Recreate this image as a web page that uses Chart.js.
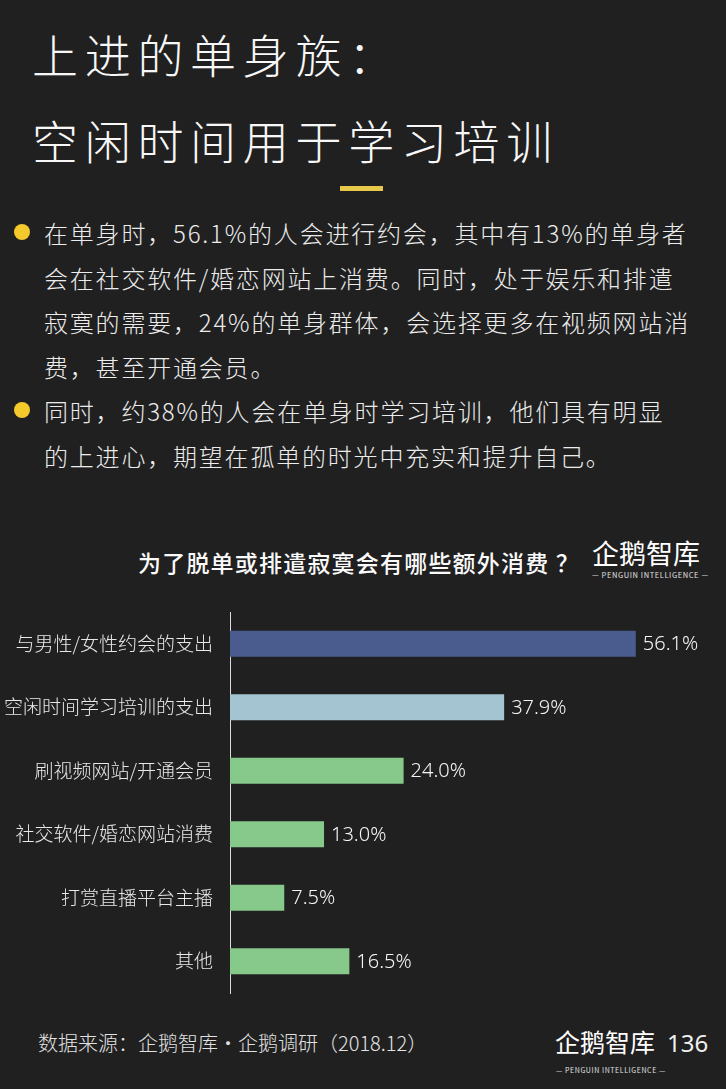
<!DOCTYPE html>
<html>
<head>
<meta charset="utf-8">
<script src="https://cdn.jsdelivr.net/npm/chart.js@4"></script>
<style>
  html, body { margin: 0; padding: 0; }
  body {
    width: 726px; height: 1089px; position: relative; overflow: hidden;
    background: #202020;
    font-family: "Noto Sans CJK SC", "Noto Sans", sans-serif;
    color: #f2f2f2;
  }
  .abs { position: absolute; white-space: nowrap; }
  .title { left: 32px; font-size: 46px; letter-spacing: 6.7px; font-weight: 300; line-height: 60px; color: #f7f7f7; }
  .bar-deco { left: 340px; top: 186px; width: 43px; height: 5px; background: #e6c84a; }
  .dot { width: 16px; height: 16px; border-radius: 50%; background: #f3c92c; left: 14px; }
  .para { left: 44px; font-size: 24px; letter-spacing: 1.8px; line-height: 44.6px; font-weight: 300; color: #ececec; }
  .ctitle { left: 138px; top: 546px; font-size: 23px; line-height: 32px; font-weight: 500; letter-spacing: 1.2px; color: #fafafa; }
  .logo { font-size: 27px; line-height: 30px; letter-spacing: 0px; color: #fff; font-weight: 400; }
  .logo-sub { font-size: 7.5px; letter-spacing: 0.6px; color: #e0e0e0; line-height: 10px; }
  .foot { left: 38px; top: 1028px; font-size: 20px; line-height: 30px; font-weight: 300; color: #e2e2e2; }
  .page { left: 667px; top: 1027px; font-size: 24px; line-height: 32px; color: #f0f0f0; font-family: "Noto Sans", sans-serif; }
  #wrap { position: absolute; left: 0; top: 600px; width: 726px; height: 400px; }
</style>
</head>
<body>
<div class="abs title" style="top:23px;">上进的单身族：</div>
<div class="abs title" style="top:109px;">空闲时间用于学习培训</div>
<div class="abs bar-deco"></div>

<div class="abs dot" style="top:224px;"></div>
<div class="abs para" style="top:211px;">在单身时，56.1%的人会进行约会，其中有13%的单身者<br>会在社交软件/婚恋网站上消费。同时，处于娱乐和排遣<br>寂寞的需要，24%的单身群体，会选择更多在视频网站消<br>费，甚至开通会员。</div>
<div class="abs dot" style="top:402px;"></div>
<div class="abs para" style="top:389px;">同时，约38%的人会在单身时学习培训，他们具有明显<br>的上进心，期望在孤单的时光中充实和提升自己。</div>

<div class="abs ctitle">为了脱单或排遣寂寞会有哪些额外消费 ？</div>
<div class="abs logo" style="left:592px; top:538px;">企鹅智库</div>
<div class="abs logo-sub" style="left:592px; top:570px;">— PENGUIN INTELLIGENCE —</div>

<div id="wrap"><canvas id="chart"></canvas></div>

<div class="abs foot">数据来源：企鹅智库·企鹅调研（2018.12）</div>
<div class="abs logo" style="left:555px; top:1026px; font-size:25px;">企鹅智库</div>
<div class="abs logo-sub" style="left:556px; top:1065px; font-size:7px;">— PENGUIN INTELLIGENCE —</div>
<div class="abs page">136</div>

<script>
// 数据
const categorias = ['与男性/女性约会的支出', '空闲时间学习培训的支出', '刷视频网站/开通会员', '社交软件/婚恋网站消费', '打赏直播平台主播', '其他'];
const valores = [56.1, 37.9, 24.0, 13.0, 7.5, 16.5];
const colores = ['#4a5b8e', '#a3c4d0', '#86c98b', '#86c98b', '#86c98b', '#86c98b'];

const fontFam = '"Noto Sans CJK SC", "Noto Sans", sans-serif';

// etiquetas de valor al final de cada barra
const etiquetas = {
    id: 'etiquetas',
    afterDatasetsDraw(chart) {
        const ctx = chart.ctx;
        const meta = chart.getDatasetMeta(0);
        ctx.save();
        ctx.fillStyle = '#f4f4f4';
        ctx.font = '300 20px "Noto Sans", sans-serif';
        ctx.textAlign = 'left';
        ctx.textBaseline = 'middle';
        meta.data.forEach((bar, i) => {
            ctx.fillText(valores[i].toFixed(1) + '%', bar.x + 7, bar.y + 1);
        });
        ctx.restore();
    }
};

new Chart(document.getElementById('chart'), {
    type: 'bar',
    data: {
        labels: categorias,
        datasets: [{
            data: valores,
            backgroundColor: colores,
            borderWidth: 0,
            barPercentage: 0.41,
            categoryPercentage: 1
        }]
    },
    options: {
        indexAxis: 'y',
        responsive: true,
        maintainAspectRatio: false,
        animation: false,
        layout: { padding: { top: 12, bottom: 7, right: 62, left: 0 } },
        plugins: { legend: { display: false }, tooltip: { enabled: false } },
        scales: {
            x: { display: false, min: 0, max: 60 },
            y: {
                afterFit: (s) => {
                    s.width = 230;
                    // sin relleno extra arriba/abajo por las etiquetas
                    s.paddingTop = 0;
                    s.paddingBottom = 0;
                },
                grid: { display: true, color: 'transparent', drawTicks: false },
                border: { display: true, color: '#dcdcdc', width: 1 },
                ticks: { color: '#e8e8e8', padding: 17, font: { family: fontFam, size: 19, weight: '300' } }
            }
        }
    },
    plugins: [etiquetas]
});
</script>
</body>
</html>
